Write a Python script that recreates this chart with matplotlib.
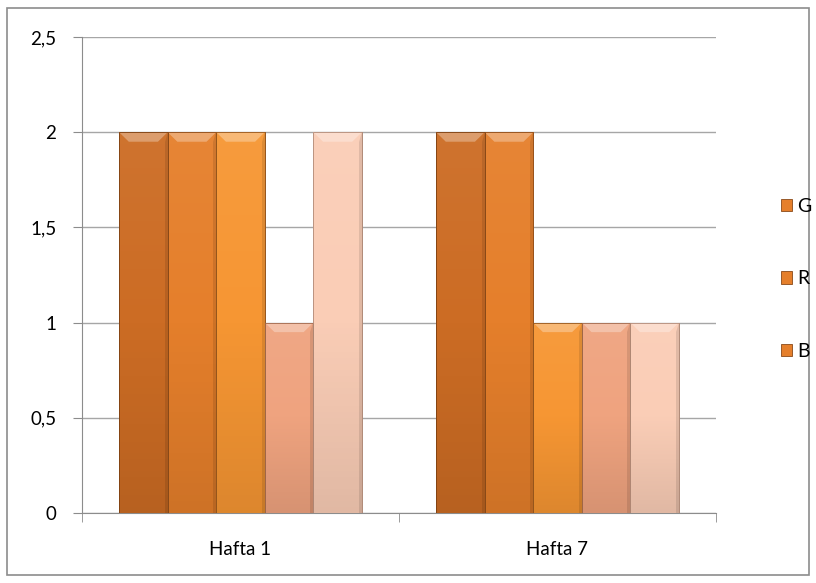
import numpy as np
import matplotlib.pyplot as plt
import matplotlib.ticker as mtick
from matplotlib.colors import LinearSegmentedColormap, to_rgb
from matplotlib.patches import Polygon, Rectangle

plt.rcParams["font.family"] = ["Lato", "DejaVu Sans"]

# Data
categories = ["Hafta 1", "Hafta 7"]
series_values = [
    [2, 2],
    [2, 2],
    [2, 1],
    [1, 1],
    [2, 1],
]
legend_labels = ["G", "R", "B"]
colors = ["#CC6C24", "#E57F2B", "#F69633", "#EFA37F", "#FACDB6"]
edge_colors = ["#7A3E10", "#8A4A18", "#95561C", "#A0684C", "#B08A78"]


def shade(c, f):
    r, g, b = to_rgb(c)
    if f >= 1:
        return tuple(v + (1 - v) * (f - 1) for v in (r, g, b))
    return tuple(v * f for v in (r, g, b))


fig = plt.figure(figsize=(8.16, 5.83), dpi=100)
ax = fig.add_axes([82 / 816, 1 - 513 / 583, (716 - 82) / 816, (513 - 37) / 583])

n = len(series_values)
group_w = 0.766
bar_w = group_w / n
x = np.arange(len(categories))
grad = np.linspace(0, 1, 64).reshape(-1, 1)

for i, vals in enumerate(series_values):
    offs = x - group_w / 2 + bar_w * (i + 0.5)
    bars = ax.bar(offs, vals, width=bar_w, color=colors[i],
                  edgecolor=edge_colors[i], linewidth=0.6, zorder=3)
    cmap = LinearSegmentedColormap.from_list(
        "g%d" % i, [shade(colors[i], 0.9), colors[i], shade(colors[i], 1.05)])
    for b in bars:
        bx, bw, bh = b.get_x(), b.get_width(), b.get_height()
        im = ax.imshow(grad, cmap=cmap, aspect="auto", origin="lower",
                       extent=(bx, bx + bw, 0, bh), zorder=3.5)
        im.set_clip_path(b)
        d = 0.05
        light = Polygon([[bx, bh], [bx + bw, bh], [bx + bw * 0.8, bh - d],
                         [bx + bw * 0.2, bh - d]], closed=True,
                        facecolor="white", alpha=0.3, edgecolor="none", zorder=4)
        ax.add_patch(light)
        side = Polygon([[bx + bw, bh], [bx + bw, 0], [bx + bw * 0.94, 0],
                        [bx + bw * 0.94, bh - d]], closed=True,
                       facecolor="black", alpha=0.10, edgecolor="none", zorder=4)
        ax.add_patch(side)
        ax.add_patch(Rectangle((bx, 0), bw, bh, fill=False,
                               edgecolor=edge_colors[i], linewidth=0.6, zorder=4.5))

ax.set_xlim(-0.5, len(categories) - 0.5)
ax.set_ylim(0, 2.5)
ax.yaxis.set_major_locator(mtick.MultipleLocator(0.5))
ax.yaxis.set_major_formatter(mtick.FuncFormatter(
    lambda v, p: ("%g" % v).replace(".", ",")))

ax.set_xticks(x)
ax.set_xticklabels(categories)
ax.set_xticks(np.arange(len(categories) + 1) - 0.5, minor=True)
ax.tick_params(axis="x", which="major", length=0, pad=20, labelsize=13.5)
ax.tick_params(axis="x", which="minor", length=6.5, color="#8C8C8C", direction="out")
ax.tick_params(axis="y", length=6.5, color="#8C8C8C", direction="out",
               labelsize=13.5, pad=12)

ax.grid(axis="y", color="#A6A6A6", linewidth=1, zorder=0)
for s in ["top", "right"]:
    ax.spines[s].set_visible(False)
for s in ["left", "bottom"]:
    ax.spines[s].set_color("#8C8C8C")

handles = [Rectangle((0, 0), 1, 1, facecolor=colors[1], edgecolor="#8A4A18",
                     linewidth=0.6) for _ in legend_labels]
fig.legend(handles, legend_labels, loc="center left",
           bbox_to_anchor=(771 / 816, 1 - 279 / 583), frameon=False,
           handlelength=0.6, handleheight=0.6, handletextpad=0.25,
           labelspacing=2.85, fontsize=14, borderpad=0)

fig.patches.append(Rectangle((7 / 816, 8 / 583), 802 / 816, 567 / 583,
                             transform=fig.transFigure, fill=False,
                             edgecolor="#8C8C8C", linewidth=1.2))

fig.savefig("out.png", dpi=100)
